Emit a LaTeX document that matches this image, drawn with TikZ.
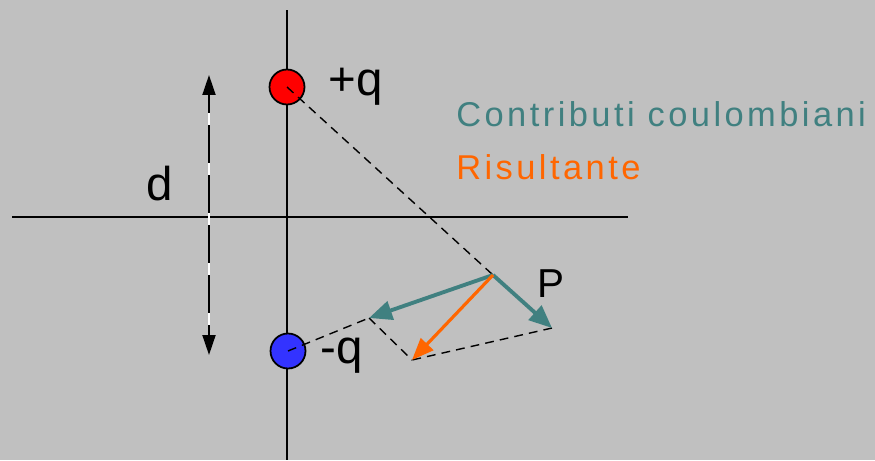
\documentclass[tikz,border=0pt]{standalone}
\usepackage{fontspec}
\setmainfont{Liberation Sans}
\newfontfamily\legendfont[LetterSpace=10]{Liberation Sans}
\usetikzlibrary{arrows.meta}
\definecolor{panel}{HTML}{C0C0C0}
\definecolor{coulomb}{HTML}{408080}
\definecolor{result}{HTML}{FF6600}
\definecolor{negq}{HTML}{3333FF}

\begin{document}
\begin{tikzpicture}[x=0.02cm, y=-0.02cm,
  charge/.style={circle, draw=black, line width=1pt, minimum size=0.7cm, inner sep=0pt},
  axis/.style={line width=1.1pt},
  guide/.style={line width=0.8pt, dash pattern=on 5pt off 3.5pt},
  contrib/.style={coulomb, line width=2.2pt, -{Triangle[length=0.46cm, width=0.38cm]}},
  resultant/.style={result, line width=1.8pt, -{Triangle[length=0.44cm, width=0.34cm]}},
  lbl/.style={anchor=base west, inner sep=0pt, font=\fontsize{27}{30}\selectfont},
  legend/.style={anchor=base west, inner sep=0pt, font=\fontsize{19.6}{23}\selectfont\legendfont}
]
  \fill[panel] (0,0) rectangle (875,460);
  \useasboundingbox (0,0) rectangle (875,460);

  % Axes
  \coordinate (ytop) at (287,10);
  \coordinate (ybot) at (287,460);
  \coordinate (xl) at (12,217);
  \coordinate (xr) at (628,217);
  \draw[axis] (ytop) -- (ybot);
  \draw[axis] (xl) -- (xr);

  % Distance d
  \coordinate (dtop) at (209,75);
  \coordinate (dbot) at (209,355);
  \draw[axis, {Triangle[length=0.4cm, width=0.26cm]}-{Triangle[length=0.4cm, width=0.26cm]}] (dtop) -- (dbot);
  \draw[white, line width=1.1pt, dash pattern=on 0.24cm off 0.76cm, dash phase=0.24cm] (dtop) -- (dbot);
  \node[lbl] (dlab) at (146,200) {d};

  % Charges
  \node[charge, fill=red] (qp) at (287,87) {};
  \node[charge, fill=negq] (qn) at (288,351) {};
  \node[lbl] (qplab) at (328,95) {+q};
  \node[lbl] (qnlab) at (320,363) {-q};

  % Point P and field vectors
  \coordinate (P) at (493,275);
  \coordinate (F1) at (552,328);
  \coordinate (F2) at (369,318);
  \coordinate (R) at (412,360);
  \node[lbl, font=\fontsize{23}{26}\selectfont] (Plab) at (537,297) {P};

  \draw[guide] (qp.center) -- (P);
  \draw[guide] (qn.center) -- (F2);
  \draw[guide] (F2) -- (R);
  \draw[guide] (F1) -- (R);

  \draw[contrib] (P) -- (F1);
  \draw[contrib] (P) -- (F2);
  \draw[resultant] (P) -- (R);

  % Legend
  \node[legend, text=coulomb] (leg1) at (456,126) {Contributi coulombiani};
  \node[legend, text=result] (leg2) at (456,179) {Risultante};
\end{tikzpicture}
\end{document}
